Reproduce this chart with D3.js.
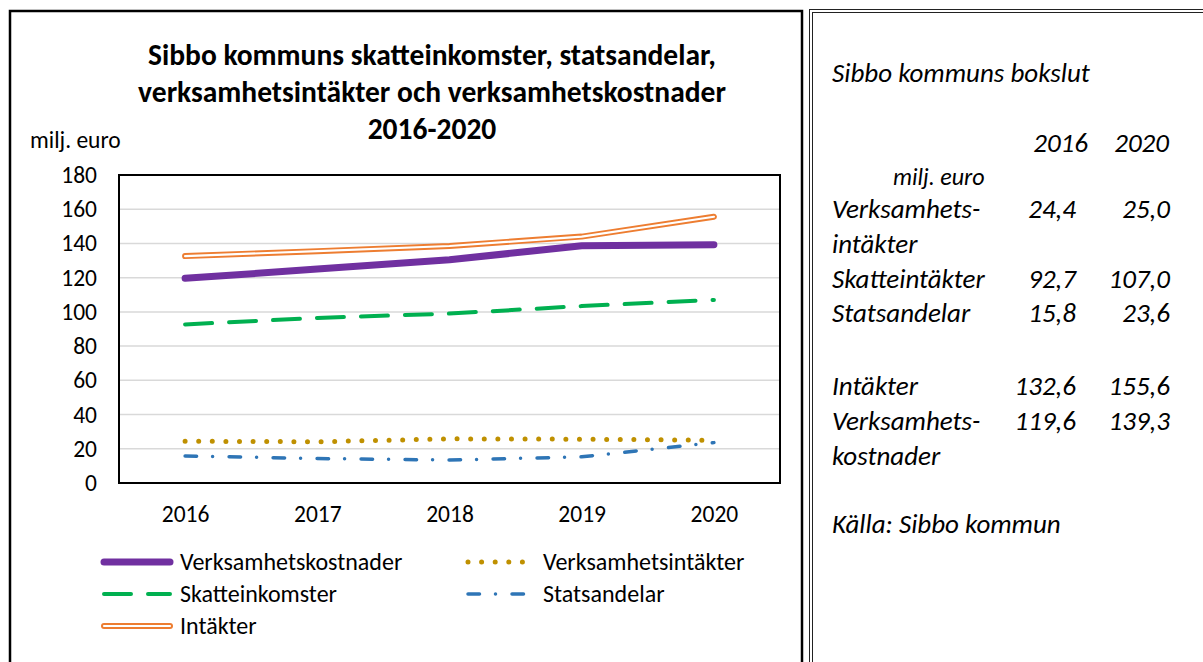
<!DOCTYPE html>
<html>
<head>
<meta charset="utf-8">
<script src="https://cdn.jsdelivr.net/npm/d3@7"></script>
<style>
    body { margin: 0; background: #fff; }
    svg { display: block; }
    text { font-family: Carlito, Calibri, Lato, sans-serif; fill: #000; }
    .title { font-weight: bold; font-size: 29.5px; }
    .tick-label { font-size: 23.5px; }
    .legend-label { font-size: 24px; }
    .side { font-style: italic; font-size: 27px; }
</style>
</head>
<body>
<script>

    // chart data
    const years = ["2016", "2017", "2018", "2019", "2020"];
    const kostnader   = [119.6, 125.0, 130.5, 138.6, 139.3];   // Verksamhetskostnader
    const vintakter   = [24.4, 24.1, 25.8, 25.6, 25.0];        // Verksamhetsintäkter
    const skatt       = [92.7, 96.5, 99.0, 103.4, 107.0];      // Skatteinkomster
    const statsandel  = [15.8, 14.3, 13.4, 15.3, 23.6];        // Statsandelar
    const intakter    = [132.6, 135.5, 138.5, 144.0, 155.6];   // Intäkter
    const yTicks = [0, 20, 40, 60, 80, 100, 120, 140, 160, 180];

    // side table
    const tableYears = ["2016", "2020"];
    const tableRows = [
        {name: ["Verksamhets-", "intäkter"], v: ["24,4", "25,0"]},
        {name: ["Skatteintäkter"], v: ["92,7", "107,0"]},
        {name: ["Statsandelar"], v: ["15,8", "23,6"]},
        {name: ["Intäkter"], v: ["132,6", "155,6"]},
        {name: ["Verksamhets-", "kostnader"], v: ["119,6", "139,3"]}
    ];

    var width = 1203, height = 662;
    var plot = {left: 119, right: 780, top: 175, bottom: 483};

    var svg = d3.select("body").append("svg")
        .attr("width", width)
        .attr("height", height);

    // panel borders
    svg.append("rect")
        .attr("x", 10).attr("y", 11).attr("width", 792).attr("height", 700)
        .attr("fill", "none").attr("stroke", "#000").attr("stroke-width", 2.5);
    svg.append("rect")
        .attr("x", 809.5).attr("y", 9.5).attr("width", 500).attr("height", 700)
        .attr("fill", "none").attr("stroke", "#222").attr("stroke-width", 1);
    svg.append("rect")
        .attr("x", 812.5).attr("y", 12.5).attr("width", 500).attr("height", 700)
        .attr("fill", "none").attr("stroke", "#222").attr("stroke-width", 1);

    // title
    var titleLines = ["Sibbo kommuns skatteinkomster, statsandelar,",
                      "verksamhetsintäkter och verksamhetskostnader",
                      "2016-2020"];
    svg.selectAll("text.title")
        .data(titleLines)
        .enter().append("text")
        .attr("class", "title")
        .attr("x", 432)
        .attr("y", (d, i) => 65 + i * 37)
        .attr("text-anchor", "middle")
        .text(d => d);

    svg.append("text")
        .attr("class", "tick-label")
        .attr("x", 30).attr("y", 148)
        .text("milj. euro");

    var x = d3.scalePoint().domain(years).range([plot.left, plot.right]).padding(0.5);
    var y = d3.scaleLinear().domain([0, 180]).range([plot.bottom, plot.top]);

    // gridlines
    svg.append("g")
      .selectAll("line")
      .data(yTicks.filter(d => d > 0 && d < 180))
      .enter().append("line")
      .attr("x1", plot.left).attr("x2", plot.right)
      .attr("y1", d => y(d)).attr("y2", d => y(d))
      .attr("stroke", "#d9d9d9").attr("stroke-width", 1.5);

    // y axis
    var yAxis = svg.append("g")
        .attr("transform", `translate(${plot.left},0)`)
        .call(d3.axisLeft(y).tickValues(yTicks).tickSize(0).tickPadding(22));
    yAxis.select(".domain").remove();
    yAxis.selectAll("text").attr("class", "tick-label").attr("font-size", null).attr("font-family", null);

    // x axis
    var xAxis = svg.append("g")
        .attr("transform", `translate(0,${plot.bottom})`)
        .call(d3.axisBottom(x).tickSize(0).tickPadding(22));
    xAxis.select(".domain").remove();
    xAxis.selectAll("text").attr("class", "tick-label").attr("font-size", null).attr("font-family", null);

    var line = d3.line().x((d, i) => x(years[i])).y(d => y(d));

    // plot lines
    svg.append("path").attr("d", line(intakter))
        .attr("fill", "none").attr("stroke", "#ED7D31").attr("stroke-width", 6)
        .attr("stroke-linecap", "round").attr("stroke-linejoin", "round");
    svg.append("path").attr("d", line(intakter))
        .attr("fill", "none").attr("stroke", "#fff").attr("stroke-width", 2.2)
        .attr("stroke-linecap", "round").attr("stroke-linejoin", "round");

    svg.append("path").attr("d", line(kostnader))
        .attr("fill", "none").attr("stroke", "#7030A0").attr("stroke-width", 7)
        .attr("stroke-linecap", "round").attr("stroke-linejoin", "round");

    svg.append("path").attr("d", line(skatt))
        .attr("fill", "none").attr("stroke", "#00B050").attr("stroke-width", 4)
        .attr("stroke-dasharray", "27 17").attr("stroke-linecap", "round");

    svg.append("path").attr("d", line(vintakter))
        .attr("fill", "none").attr("stroke", "#BF9000").attr("stroke-width", 5)
        .attr("stroke-dasharray", "0 13.6").attr("stroke-linecap", "round");

    svg.append("path").attr("d", line(statsandel))
        .attr("fill", "none").attr("stroke", "#2E75B6").attr("stroke-width", 3.5)
        .attr("stroke-dasharray", "11.5 16 0 16.5").attr("stroke-linecap", "round");

    // plot frame
    svg.append("rect")
        .attr("x", plot.left).attr("y", plot.top)
        .attr("width", plot.right - plot.left).attr("height", plot.bottom - plot.top)
        .attr("fill", "none").attr("stroke", "#000").attr("stroke-width", 2);

    // legend
    var legend = [
        {label: "Verksamhetskostnader", col: 0, row: 0, stroke: "#7030A0", w: 7, dash: null},
        {label: "Verksamhetsintäkter", col: 1, row: 0, stroke: "#BF9000", w: 5, dash: "0 13.6"},
        {label: "Skatteinkomster", col: 0, row: 1, stroke: "#00B050", w: 4, dash: "27 17"},
        {label: "Statsandelar", col: 1, row: 1, stroke: "#2E75B6", w: 3.5, dash: "11.5 16 0 16.5"},
        {label: "Intäkter", col: 0, row: 2, stroke: "#ED7D31", w: 6, dash: null, dbl: true}
    ];
    var colX = [[104, 170, 180], [468, 524, 543]];
    var lg = svg.append("g").selectAll("g").data(legend).enter().append("g")
        .attr("transform", d => `translate(0,${562 + d.row * 32})`);
    lg.append("line")
        .attr("x1", d => colX[d.col][0]).attr("x2", d => colX[d.col][1])
        .attr("stroke", d => d.stroke).attr("stroke-width", d => d.w)
        .attr("stroke-dasharray", d => d.dash).attr("stroke-linecap", "round");
    lg.filter(d => d.dbl).append("line")
        .attr("x1", d => colX[d.col][0]).attr("x2", d => colX[d.col][1])
        .attr("stroke", "#fff").attr("stroke-width", 2.2).attr("stroke-linecap", "round");
    lg.append("text")
        .attr("class", "legend-label")
        .attr("x", d => colX[d.col][2]).attr("dy", "0.35em")
        .text(d => d.label);

    // side table
    var side = svg.append("g");
    side.append("text").attr("class", "side").attr("x", 832).attr("y", 82).text("Sibbo kommuns bokslut");
    var valX = [1076, 1170];
    side.selectAll("text.yr").data(tableYears).enter().append("text")
        .attr("class", "side yr").attr("text-anchor", "end")
        .attr("x", (d, i) => i === 0 ? 1088 : 1169).attr("y", 152).text(d => d);
    side.append("text").attr("class", "side").attr("x", 893).attr("y", 185)
        .style("font-size", "24px").text("milj. euro");

    var rowY = [218, 288, 322, 395, 430];
    tableRows.forEach(function(r, i) {
        r.name.forEach(function(n, j) {
            side.append("text").attr("class", "side").attr("x", 832).attr("y", rowY[i] + j * 35).text(n);
        });
        r.v.forEach(function(v, j) {
            side.append("text").attr("class", "side").attr("text-anchor", "end")
                .attr("x", valX[j]).attr("y", rowY[i]).text(v);
        });
    });
    side.append("text").attr("class", "side").attr("x", 832).attr("y", 533).text("Källa: Sibbo kommun");

</script>
</body>
</html>
